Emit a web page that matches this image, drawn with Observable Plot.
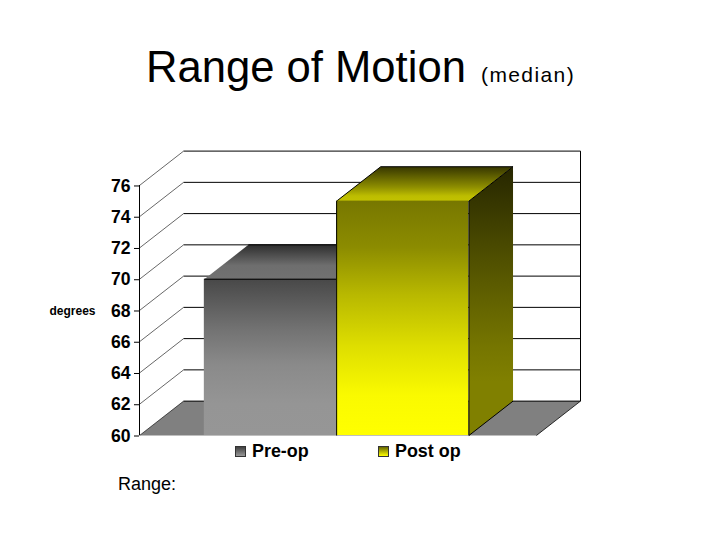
<!DOCTYPE html>
<html>
<head>
<meta charset="utf-8">
<script src="https://cdn.jsdelivr.net/npm/d3@7"></script>
<script src="https://cdn.jsdelivr.net/npm/@observablehq/plot@0.6"></script>
<style>
  html, body { margin: 0; padding: 0; background: #fff; width: 720px; height: 540px; overflow: hidden; }
  body { font-family: "Liberation Sans", Arial, sans-serif; color: #000; }
  #title { height: 140px; box-sizing: border-box; padding: 40px 0 0 146px; font-size: 43.6px; line-height: 54px; white-space: nowrap; }
  #title small { font-size: 21px; letter-spacing: 1.4px; margin-left: 3px; }
  #chart svg { display: block; }
  #legend { position: relative; height: 20px; font-weight: bold; font-size: 17.9px; line-height: 19px; }
  #legend span.item { position: absolute; top: 0; display: flex; align-items: center; gap: 6px; }
  #legend i { display: block; width: 11px; height: 11px; border: 0.5px solid #333; box-sizing: border-box; }
  #range { position: absolute; left: 118px; top: 474px; font-size: 18px; line-height: 21px; }
</style>
</head>
<body>
<div id="title">Range of Motion <small>(median)</small></div>
<div id="chart"></div>
<div id="legend"></div>
<div id="range">Range:</div>
<script>
const categories = ["Pre-op", "Post op"];
const values = [70, 75];
const barStarts = [0.49, 1.49];
const barWidth = 1;
const yTicks = [60, 62, 64, 66, 68, 70, 72, 74, 76];
const depthX = 1 / 3;
const depthY = 2.2;
const floorWidth = 3;
const baseValue = 60;
const topTick = 76;
const gradients = {
  preFront: [[0, "#484848"], [0.32, "#727272"], [0.55, "#8a8a8a"], [0.8, "#959595"], [1, "#969696"]],
  preTop: [[0, "#2e2e2e"], [0.6, "#6e6e6e"], [1, "#727272"]],
  postFront: [[0, "#777700"], [0.2, "#8c8c00"], [0.4, "#b8b800"], [0.62, "#dede00"], [0.83, "#fafa00"], [1, "#ffff00"]],
  postTop: [[0, "#363600"], [0.6, "#8f8f00"], [0.85, "#bdbd00"], [1, "#c2c200"]],
  postSide: [[0, "#262600"], [0.48, "#606000"], [0.665, "#757500"], [0.8, "#808000"], [1, "#808000"]]
};
const legendGradients = [["#404040", "#989898"], ["#666600", "#ffff00"]];
const legendLefts = [235, 378];

function defs() {
  const d = d3.create("svg:defs");
  for (const [id, stops] of Object.entries(gradients)) {
    const g = d.append("linearGradient").attr("id", id)
      .attr("x1", 0).attr("x2", 0).attr("y1", 0).attr("y2", 1);
    for (const [o, c] of stops) g.append("stop").attr("offset", o).attr("stop-color", c);
  }
  return d.node();
}

const topFace = (i) => {
  const x0 = barStarts[i], x1 = x0 + barWidth, v = values[i];
  return [
    {x: x0, y: v}, {x: x0 + depthX, y: v + depthY},
    {x: x1 + depthX, y: v + depthY}, {x: x1, y: v}
  ];
};
const sideFace = (i) => {
  const x1 = barStarts[i] + barWidth, v = values[i];
  return [
    {x: x1, y: baseValue}, {x: x1, y: v},
    {x: x1 + depthX, y: v + depthY}, {x: x1 + depthX, y: baseValue + depthY}
  ];
};
const floor = [
  {x: 0, y: baseValue}, {x: depthX, y: baseValue + depthY},
  {x: floorWidth + depthX, y: baseValue + depthY}, {x: floorWidth, y: baseValue}
];
const closed = {x: "x", y: "y", curve: "linear-closed"};
const postLeft = barStarts[1], postRight = barStarts[1] + barWidth;

const plot = Plot.plot({
  width: 720,
  height: 302,
  marginLeft: 139,
  marginRight: 140,
  marginTop: 10.6,
  marginBottom: 7,
  x: {domain: [0, floorWidth + depthX], axis: null},
  y: {domain: [baseValue, topTick + depthY]},
  style: {background: "#fff", fontFamily: '"Liberation Sans", Arial, sans-serif', overflow: "visible"},
  marks: [
    defs,
    // floor
    Plot.line(floor, {...closed, fill: "#808080", stroke: "none"}),
    // wall grid
    Plot.link(yTicks, {x1: 0, y1: d => d, x2: depthX, y2: d => d + depthY, stroke: "#000", strokeWidth: 0.6}),
    Plot.link(yTicks, {x1: depthX, y1: d => d + depthY, x2: floorWidth + depthX, y2: d => d + depthY, stroke: "#000", strokeWidth: 1}),
    Plot.link([0], {x1: floorWidth + depthX, x2: floorWidth + depthX, y1: baseValue + depthY, y2: topTick + depthY, stroke: "#000", strokeWidth: 1}),
    Plot.link([0], {x1: floorWidth, x2: floorWidth + depthX, y1: baseValue, y2: baseValue + depthY, stroke: "#000", strokeWidth: 0.8}),
    // axis
    Plot.ruleX([0], {y1: baseValue, y2: topTick, stroke: "#000", strokeWidth: 1}),
    Plot.axisY({
      ticks: yTicks, tickSize: 5, tickPadding: 4, label: null, stroke: "#000",
      fontSize: 17.6, fontWeight: "bold", tickFormat: d => String(d), color: "#000", dy: 0.5
    }),
    Plot.text(["degrees"], {
      frameAnchor: "left", y: [68], dx: -90, dy: 1, text: d => d, textAnchor: "start",
      fontSize: 12, fontWeight: "bold", fill: "#000"
    }),
    // Pre-op bar
    Plot.line(topFace(0), {...closed, fill: "url(#preTop)", stroke: "none"}),
    Plot.link([0], {
      x1: barStarts[0] + depthX, x2: barStarts[0] + barWidth + depthX,
      y1: values[0] + depthY, y2: values[0] + depthY, stroke: "#000", strokeWidth: 1
    }),
    Plot.rect([0], {
      x1: barStarts[0], x2: barStarts[0] + barWidth,
      y1: baseValue, y2: values[0], fill: "url(#preFront)"
    }),
    Plot.link([0], {
      x1: barStarts[0], x2: barStarts[0] + barWidth,
      y1: values[0], y2: values[0], stroke: "#000", strokeWidth: 1
    }),
    // Post op bar
    Plot.line(sideFace(1), {...closed, fill: "url(#postSide)", stroke: "none"}),
    Plot.link([0], {
      x1: postRight, x2: postRight + depthX, y1: baseValue, y2: baseValue + depthY,
      stroke: "#000", strokeWidth: 1
    }),
    Plot.line(topFace(1), {...closed, fill: "url(#postTop)", stroke: "none"}),
    Plot.line(topFace(1), {x: "x", y: "y", stroke: "#000", strokeWidth: 1}),
    Plot.rect([0], {
      x1: postLeft, x2: postRight,
      y1: baseValue, y2: values[1], fill: "url(#postFront)"
    }),
    Plot.link([postLeft, postRight], {
      x1: d => d, x2: d => d, y1: baseValue, y2: values[1], stroke: "#000", strokeWidth: 1
    })
  ]
});
document.getElementById("chart").append(plot);

const legend = d3.select("#legend");
categories.forEach((c, i) => {
  const item = legend.append("span").attr("class", "item").style("left", legendLefts[i] + "px");
  item.append("i").style("background", `linear-gradient(${legendGradients[i][0]}, ${legendGradients[i][1]})`);
  item.append("span").text(c);
});
</script>
</body>
</html>
